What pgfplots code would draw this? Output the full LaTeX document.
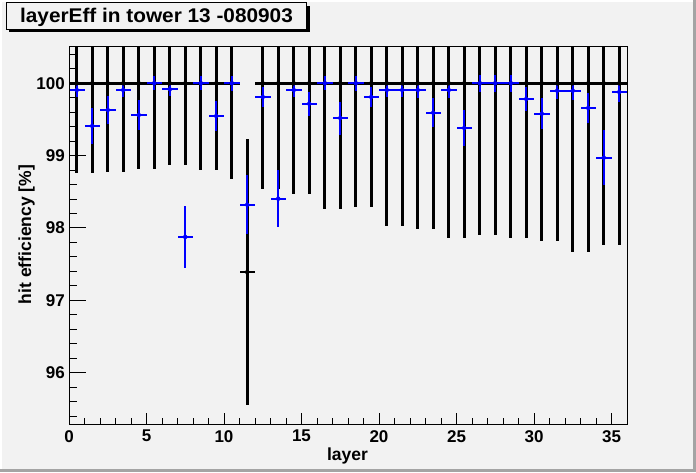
\documentclass[border=0pt]{standalone}
\usepackage{fontspec}
\setmainfont{Liberation Sans}
\usepackage{pgfplots}
\usepackage{pgfplotstable}
\usepackage{graphicx}
\pgfplotsset{compat=1.18}
\definecolor{bg}{HTML}{F2F2F2}
\definecolor{bevdark}{HTML}{A4A4A4}
\definecolor{rblue}{HTML}{0000FF}

\pgfplotstableread{
x y ex ey
0.5 100 0.5 1.236
1.5 100 0.5 1.236
2.5 100 0.5 1.222
3.5 100 0.5 1.222
4.5 100 0.5 1.180
5.5 100 0.5 1.180
6.5 100 0.5 1.125
7.5 100 0.5 1.125
8.5 100 0.5 1.194
9.5 100 0.5 1.194
10.5 100 0.5 1.319
11.5 97.39 0.5 1.84
12.5 100 0.5 1.457
13.5 100 0.5 1.457
14.5 100 0.5 1.526
15.5 100 0.5 1.526
16.5 100 0.5 1.733
17.5 100 0.5 1.733
18.5 100 0.5 1.706
19.5 100 0.5 1.706
20.5 100 0.5 1.968
21.5 100 0.5 1.968
22.5 100 0.5 2.010
23.5 100 0.5 2.010
24.5 100 0.5 2.134
25.5 100 0.5 2.134
26.5 100 0.5 2.093
27.5 100 0.5 2.093
28.5 100 0.5 2.134
29.5 100 0.5 2.134
30.5 100 0.5 2.176
31.5 100 0.5 2.176
32.5 100 0.5 2.328
33.5 100 0.5 2.328
34.5 100 0.5 2.231
35.5 100 0.5 2.231
}\blacktab

\pgfplotstableread{
x y ex ey
0.5 99.907 0.5 0.097
1.5 99.410 0.5 0.245
2.5 99.631 0.5 0.200
3.5 99.907 0.5 0.097
4.5 99.562 0.5 0.205
5.5 100.000 0.5 0.097
6.5 99.917 0.5 0.093
7.5 97.876 0.5 0.430
8.5 100.000 0.5 0.097
9.5 99.548 0.5 0.205
10.5 100.000 0.5 0.100
11.5 98.322 0.5 0.410
12.5 99.811 0.5 0.134
13.5 98.405 0.5 0.390
14.5 99.907 0.5 0.097
15.5 99.718 0.5 0.168
16.5 100.000 0.5 0.097
17.5 99.520 0.5 0.228
18.5 100.000 0.5 0.100
19.5 99.811 0.5 0.140
20.5 99.907 0.5 0.097
21.5 99.907 0.5 0.100
22.5 99.907 0.5 0.108
23.5 99.594 0.5 0.203
24.5 99.907 0.5 0.108
25.5 99.382 0.5 0.253
26.5 100.000 0.5 0.115
27.5 100.000 0.5 0.115
28.5 100.000 0.5 0.115
29.5 99.783 0.5 0.164
30.5 99.580 0.5 0.217
31.5 99.898 0.5 0.115
32.5 99.898 0.5 0.122
33.5 99.659 0.5 0.207
34.5 98.972 0.5 0.376
35.5 99.880 0.5 0.134
}\bluetab

\begin{document}
\begin{tikzpicture}[x=1pt,y=1pt]
\useasboundingbox (0,0) rectangle (696,472);
\fill[bg] (0,0) rectangle (696,472);
\fill[white] (0,470) rectangle (696,472);
\fill[white] (0,0) rectangle (2,472);
\fill[bevdark] (0,0) rectangle (696,2.7);
\fill[bevdark] (693.3,0) rectangle (696,472);

\begin{axis}[
  at={(69pt,48pt)}, anchor=south west,
  scale only axis, width=558pt, height=377.3pt,
  xmin=0, xmax=36, ymin=95.29, ymax=100.506,
  axis background/.style={fill=bg},
  axis line style={black, line width=1pt},
  axis on top,
  tick pos=left, tick align=inside,
  xtick={0,5,10,15,20,25,30,35},
  minor xtick={1,2,3,4,6,7,8,9,11,12,13,14,16,17,18,19,21,22,23,24,26,27,28,29,31,32,33,34},
  ytick={96,97,98,99,100},
  minor ytick={95.4,95.6,95.8,96.2,96.4,96.6,96.8,97.2,97.4,97.6,97.8,98.2,98.4,98.6,98.8,99.2,99.4,99.6,99.8,100.2,100.4},
  tick style={black, line width=1pt},
  xtick style={/pgfplots/major tick length=11pt, /pgfplots/minor tick length=5.7pt},
  ytick style={/pgfplots/major tick length=17pt, /pgfplots/minor tick length=8pt},
  /pgf/number format/assume math mode=true,
  ticklabel style={font=\fontsize{17}{17}\selectfont\bfseries, inner sep=0pt},
  xticklabel style={yshift=-6pt},
  yticklabel style={xshift=-4pt},
]
\addplot[black, only marks, mark=none,
  error bars/.cd, x dir=both, x explicit, y dir=both, y explicit,
  error mark=none, error bar style={line width=2.7pt, black}]
  table[x=x, y=y, x error=ex, y error=ey] {\blacktab};
\addplot[rblue, only marks, mark=none,
  error bars/.cd, x dir=both, x explicit, y dir=both, y explicit,
  error mark=none, error bar style={line width=1.7pt, rblue}]
  table[x=x, y=y, x error=ex, y error=ey] {\bluetab};
\end{axis}

\node[anchor=base, inner sep=0pt, font=\fontsize{17.5}{17.5}\selectfont\bfseries] at (347.5,11.3) {layer};
\node[anchor=base, rotate=90, inner sep=0pt, font=\fontsize{17.5}{17.5}\selectfont\bfseries] at (31,237.5) {hit efficiency [\%]};

\fill[black] (9,439.7) rectangle (309.7,466.3);
\filldraw[fill=bg, draw=black, line width=1pt] (6,442.7) rectangle (306.7,469.3);
\node[anchor=base, inner sep=0pt, font=\fontsize{19.8}{19.8}\selectfont\bfseries] at (156.5,449.3) {\scalebox{1.05}[1]{layerEff in tower 13 -080903}};
\end{tikzpicture}
\end{document}
